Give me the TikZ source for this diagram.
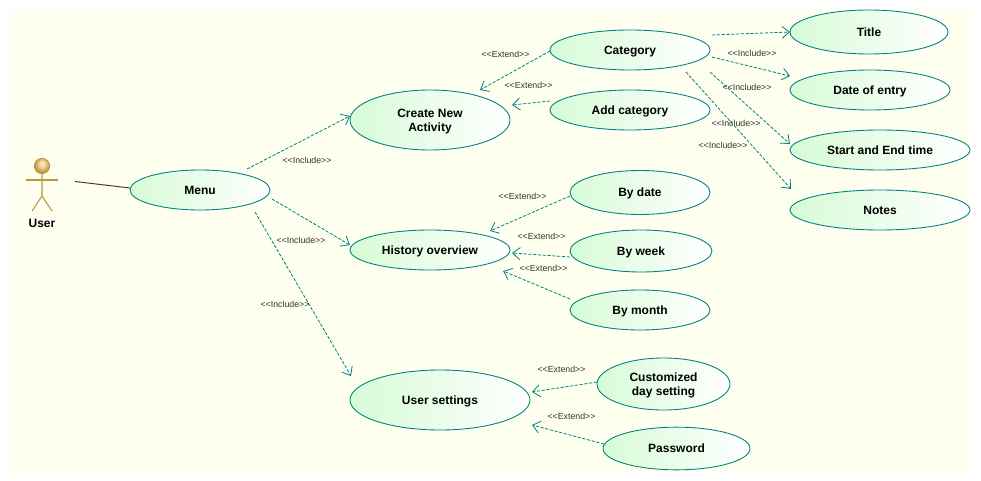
\documentclass[tikz,border=0pt]{standalone}
\usepackage{fontspec}
\setmainfont{Liberation Sans}
\usetikzlibrary{shapes.geometric,arrows.meta}
\definecolor{paper}{HTML}{FFFFF0}
\definecolor{teal1}{HTML}{008080}
\definecolor{mint}{HTML}{D6FBD6}
\definecolor{gold}{HTML}{C09438}
\definecolor{goldlight}{HTML}{FFF2D0}
\definecolor{linkdark}{HTML}{4A3C28}
\definecolor{note}{HTML}{333333}
% gold sphere with its highlight above the middle
\pgfdeclareradialshading{headball}{\pgfpoint{0bp}{9bp}}{
  color(0bp)=(goldlight); color(10bp)=(goldlight!70!gold); color(25bp)=(gold); color(50bp)=(gold)}
\tikzset{
  usecase/.style={ellipse,draw=teal1,line width=0.65pt,left color=mint,right color=white,
    inner sep=0pt,align=center,text depth=0pt,font=\bfseries\fontsize{9}{10.5}\selectfont},
  relation/.style={draw=teal1,line width=0.6pt,dash pattern=on 2.4pt off 1.2pt,
    -{Straight Barb[length=5.5pt,width=9pt,line width=0.6pt]}},
  stereo/.style={font=\fontsize{6.6}{8}\selectfont,text=note,inner sep=0pt},
  actorline/.style={draw=gold,line width=0.8pt},
}
\begin{document}
\begin{tikzpicture}[x=0.75pt,y=-0.75pt]
\useasboundingbox (0,0) rectangle (981,481);
\fill[paper] (10,10) rectangle (970,472);

% use cases
\node[usecase,minimum width=105pt,minimum height=30pt] (menu) at (200,190) {Menu};
\node[usecase,minimum width=120pt,minimum height=45pt] (create) at (430,120) {Create New\\Activity};
\node[usecase,minimum width=120pt,minimum height=30pt] (history) at (430,250) {History overview};
\node[usecase,minimum width=135pt,minimum height=45pt] (settings) at (440,400) {User settings};
\node[usecase,minimum width=120pt,minimum height=30pt] (category) at (630,50) {Category};
\node[usecase,minimum width=120pt,minimum height=30pt] (addcat) at (630,110) {Add category};
\node[usecase,minimum width=118.5pt,minimum height=33pt] (title) at (869,32) {Title};
\node[usecase,minimum width=120pt,minimum height=30pt] (entry) at (870,90) {Date of entry};
\node[usecase,minimum width=135pt,minimum height=30pt] (times) at (880,150) {Start and End time};
\node[usecase,minimum width=135pt,minimum height=30pt] (notes) at (880,210) {Notes};
\node[usecase,minimum width=105pt,minimum height=33pt] (bydate) at (640,192.5) {By date};
\node[usecase,minimum width=106.5pt,minimum height=31.5pt] (byweek) at (641,251) {By week};
\node[usecase,minimum width=105pt,minimum height=30pt] (bymonth) at (640,310) {By month};
\node[usecase,minimum width=99.75pt,minimum height=39pt] (custom) at (663.5,384) {Customized\\day setting};
\node[usecase,minimum width=110.25pt,minimum height=32pt] (password) at (676.5,448.5) {Password};

% actor
\coordinate (neck) at (42,174);
\coordinate (hip) at (42,196);
\draw[actorline] (neck) -- (hip) -- (32,211);
\draw[actorline] (hip) -- (52,211);
\draw[actorline] (26,180) -- (58,180);
\node[circle,minimum size=11.5pt,inner sep=0pt,draw=gold,line width=0.5pt,
  shading=headball] (head) at (42,166) {};
\node[font=\bfseries\fontsize{9}{10}\selectfont] (user) at (42,223) {User};

% association
\draw[linkdark,line width=0.75pt] ([shift={(33,15.5)}]head.center) -- ([shift={(-70,-2)}]menu.center);

% include relations
\draw[relation] ([shift={(47,-21)}]menu.center) -- ([shift={(-80,-4)}]create.center);
\draw[relation] ([shift={(72,9)}]menu.center) -- ([shift={(-80,-5)}]history.center);
\draw[relation] ([shift={(55,22)}]menu.center) -- ([shift={(-89,-24)}]settings.center);
\draw[relation] ([shift={(82,-15)}]category.center) -- ([shift={(-79,0)}]title.center);
\draw[relation] ([shift={(82,7)}]category.center) -- ([shift={(-80,-14)}]entry.center);
\draw[relation] ([shift={(80,22)}]category.center) -- ([shift={(-90,-6)}]times.center);
\draw[relation] ([shift={(56,22)}]category.center) -- ([shift={(-89,-21)}]notes.center);

% extend relations
\draw[relation] ([shift={(-80,1)}]category.center) -- ([shift={(50,-30)}]create.center);
\draw[relation] ([shift={(-80,-9)}]addcat.center) -- ([shift={(82,-15)}]create.center);
\draw[relation] ([shift={(-70,3.5)}]bydate.center) -- ([shift={(60,-19)}]history.center);
\draw[relation] ([shift={(-71,6)}]byweek.center) -- ([shift={(82,3)}]history.center);
\draw[relation] ([shift={(-70,-11)}]bymonth.center) -- ([shift={(73,21)}]history.center);
\draw[relation] ([shift={(-66.5,-2)}]custom.center) -- ([shift={(92,-8)}]settings.center);
\draw[relation] ([shift={(-72.5,-4.5)}]password.center) -- ([shift={(92,25)}]settings.center);

% stereotypes
\node[stereo] (l1) at (307,160) {<{}<Include>{}>};
\node[stereo] (l2) at (301,240) {<{}<Include>{}>};
\node[stereo] (l3) at (285,304) {<{}<Include>{}>};
\node[stereo] (l4) at (505.5,54) {<{}<Extend>{}>};
\node[stereo] (l5) at (528.5,85) {<{}<Extend>{}>};
\node[stereo] (l6) at (752,53) {<{}<Include>{}>};
\node[stereo] (l7) at (747,87) {<{}<Include>{}>};
\node[stereo] (l8) at (736,123) {<{}<Include>{}>};
\node[stereo] (l9) at (723,145) {<{}<Include>{}>};
\node[stereo] (l10) at (522.5,196) {<{}<Extend>{}>};
\node[stereo] (l11) at (541.5,236) {<{}<Extend>{}>};
\node[stereo] (l12) at (543.5,268) {<{}<Extend>{}>};
\node[stereo] (l13) at (561.5,369) {<{}<Extend>{}>};
\node[stereo] (l14) at (571.5,416) {<{}<Extend>{}>};
\end{tikzpicture}
\end{document}
